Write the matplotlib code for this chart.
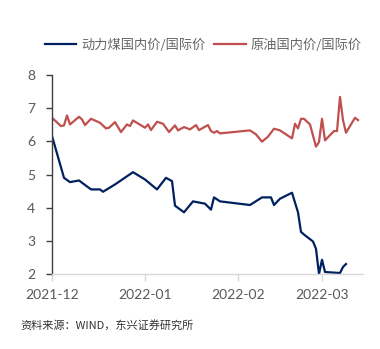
import matplotlib
matplotlib.use("Agg")
import matplotlib.pyplot as plt
import pandas as pd

plt.rcParams['font.family'] = ['Lato', 'Noto Sans CJK SC', 'DejaVu Sans']

start = pd.Timestamp('2021-12-01')

coal_days = [0, 4, 6, 9, 13, 16, 17, 21, 27, 31, 35, 38, 40, 41, 44, 47, 51, 53, 54, 56,
             66, 70, 73, 74, 76, 80, 82, 83, 84, 87, 88, 89, 90, 91, 96, 97, 98]
coal_vals = [6.16, 4.90, 4.77, 4.82, 4.55, 4.55, 4.48, 4.70, 5.07, 4.85, 4.55, 4.90, 4.80, 4.06,
             3.86, 4.19, 4.12, 3.94, 4.31, 4.19, 4.08, 4.31, 4.31, 4.08, 4.27, 4.45, 3.86, 3.27,
             3.19, 2.98, 2.76, 2.00, 2.43, 2.06, 2.03, 2.21, 2.30]

oil_days = [0, 3, 4, 5, 6, 9, 10, 11, 13, 16, 18, 19, 21, 23, 25, 26, 27, 31, 32, 33, 35, 37,
            39, 41, 42, 44, 46, 48, 49, 52, 53, 54, 55, 56, 66, 68, 70, 72, 74, 76, 80, 81, 82,
            83, 84, 86, 88, 89, 90, 91, 94, 95, 96, 97, 98, 101, 102]
oil_vals = [6.71, 6.46, 6.48, 6.78, 6.51, 6.74, 6.66, 6.49, 6.68, 6.56, 6.39, 6.41, 6.58, 6.28,
            6.51, 6.46, 6.63, 6.41, 6.51, 6.34, 6.59, 6.53, 6.28, 6.48, 6.33, 6.43, 6.36, 6.49,
            6.34, 6.49, 6.31, 6.26, 6.31, 6.24, 6.33, 6.21, 5.99, 6.14, 6.38, 6.33, 6.09, 6.53,
            6.39, 6.68, 6.68, 6.51, 5.84, 5.98, 6.68, 6.03, 6.31, 6.31, 7.34, 6.64, 6.26, 6.71,
            6.64]

series_names = ['动力煤国内价/国际价', '原油国内价/国际价']
x_ticks = ['2021-12-01', '2022-01-01', '2022-02-01', '2022-03-01']
x_tick_labels = ['2021-12', '2022-01', '2022-02', '2022-03']
source_text = '资料来源：WIND，东兴证券研究所'

coal_dates = [start + pd.Timedelta(days=d) for d in coal_days]
oil_dates = [start + pd.Timedelta(days=d) for d in oil_days]

fig = plt.figure(figsize=(3.8, 3.49), dpi=100)
ax = fig.add_axes([52/380, 1-274/349, (362.5-52)/380, (274-75)/349])

l1, = ax.plot(coal_dates, coal_vals, color='#002060', lw=1.6, solid_joinstyle='round')
l2, = ax.plot(oil_dates, oil_vals, color='#C0504D', lw=1.6, solid_joinstyle='round')

ax.set_ylim(2, 8)
ax.set_xlim(start, start + pd.Timedelta(days=103.5))
ax.set_yticks(range(2, 9))
ax.set_xticks([pd.Timestamp(t) for t in x_ticks])
ax.set_xticklabels(x_tick_labels)

for s in ['top', 'right']:
    ax.spines[s].set_visible(False)
ax.spines['left'].set_color('#404040')
ax.spines['left'].set_linewidth(1.0)
ax.spines['bottom'].set_color('#D9D9D9')
ax.spines['bottom'].set_linewidth(1.0)
ax.tick_params(axis='y', direction='out', length=4, width=1, color='#404040',
               labelcolor='#595959', labelsize=10, pad=8)
ax.tick_params(axis='x', direction='out', length=5, width=1, color='#D9D9D9',
               labelcolor='#595959', labelsize=10, pad=6)

fig.legend([l1, l2], series_names, loc='center', bbox_to_anchor=(0.535, 1-45/349),
           ncol=2, frameon=False, handlelength=2.4, handletextpad=0.4, columnspacing=0.6,
           prop={'family': ['Noto Sans CJK SC'], 'size': 9.5}, labelcolor='#666666')

fig.text(20/380, 1-325/349, source_text, ha='left', va='center', fontsize=8,
         color='#333333', family=['Noto Sans CJK SC'], style='italic')

fig.savefig('out.png', dpi=100)
